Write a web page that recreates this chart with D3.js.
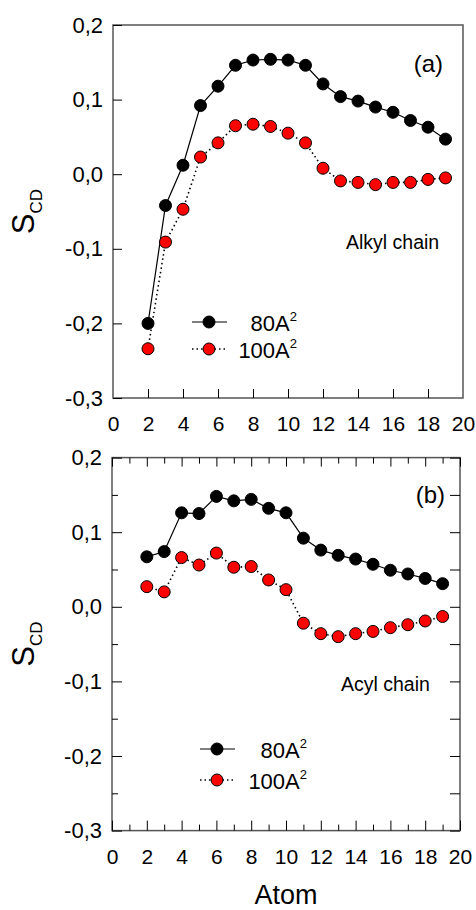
<!DOCTYPE html>
<html>
<head>
<meta charset="utf-8">
<script src="https://cdn.jsdelivr.net/npm/d3@7"></script>
<style>
  body { margin: 0; background: #fff; }
  svg { display: block; font-family: "Liberation Sans", Arial, sans-serif; }
</style>
</head>
<body>
<div id="chart"></div>
<script>
// atom positions along the chain
const atoms = [2, 3, 4, 5, 6, 7, 8, 9, 10, 11, 12, 13, 14, 15, 16, 17, 18, 19];

// (a) alkyl chain
const alkyl80 = [-0.200, -0.042, 0.012, 0.092, 0.118, 0.146, 0.153, 0.154, 0.153, 0.146,
                 0.121, 0.104, 0.098, 0.090, 0.083, 0.072, 0.063, 0.047];
const alkyl100 = [-0.234, -0.091, -0.047, 0.023, 0.042, 0.065, 0.067, 0.064, 0.055, 0.042,
                  0.008, -0.009, -0.011, -0.014, -0.011, -0.011, -0.007, -0.005];

// (b) acyl chain
const acyl80 = [0.067, 0.074, 0.126, 0.125, 0.148, 0.142, 0.144, 0.132, 0.126, 0.092,
                0.076, 0.069, 0.064, 0.057, 0.049, 0.044, 0.038, 0.031];
const acyl100 = [0.027, 0.020, 0.066, 0.056, 0.072, 0.053, 0.054, 0.036, 0.023, -0.022,
                 -0.036, -0.040, -0.036, -0.033, -0.028, -0.024, -0.019, -0.013];

const seriesNames = ["80A", "100A"];
const xTicks = [0, 2, 4, 6, 8, 10, 12, 14, 16, 18, 20];
const xMinorTicks = [1, 3, 5, 7, 9, 11, 13, 15, 17, 19];
const yTicks = [-0.3, -0.2, -0.1, 0.0, 0.1, 0.2];
const yMinorTicks = [-0.25, -0.15, -0.05, 0.05, 0.15];

const width = 476, height = 910;
const markerR = 6;
const fontFamily = '"Liberation Sans", Arial, sans-serif';

const locale = d3.formatLocale({decimal: ",", thousands: ".", grouping: [3], currency: ["", ""], minus: "-"});
const fmtY = locale.format(".1f");

const svg = d3.select("#chart").append("svg")
    .attr("width", width)
    .attr("height", height);

const panels = [
    {left: 113, right: 463, top: 25, bottom: 398, s80: alkyl80, s100: alkyl100,
     letter: "(a)", letterX: 443, letterY: 72, name: "Alkyl chain", nameX: 346, nameY: 249,
     legX: 192, legY: 322, legGap: 27, legTextX: 297, allTicks: false},
    {left: 112, right: 460, top: 457.6, bottom: 830.6, s80: acyl80, s100: acyl100,
     letter: "(b)", letterX: 445, letterY: 503, name: "Acyl chain", nameX: 341, nameY: 691,
     legX: 200, legY: 749, legGap: 31, legTextX: 307, allTicks: true}
];

panels.forEach(drawPanel);

// x axis title
svg.append("text")
    .attr("x", (panels[1].left + panels[1].right) / 2)
    .attr("y", 904)
    .attr("text-anchor", "middle")
    .style("font-size", "27px")
    .text("Atom");

function drawPanel(p) {
    const x = d3.scaleLinear().domain([0, 20]).range([p.left, p.right]);
    const y = d3.scaleLinear().domain([-0.3, 0.2]).range([p.bottom, p.top]);
    const g = svg.append("g");

    // frame
    g.append("rect")
        .attr("x", p.left).attr("y", p.top)
        .attr("width", p.right - p.left).attr("height", p.bottom - p.top)
        .attr("fill", "none")
        .attr("stroke", "#555")
        .attr("stroke-width", 1.5);

    // left axis, ticks pointing inwards
    const left = g.append("g")
        .attr("transform", `translate(${p.left},0)`)
        .call(d3.axisLeft(y).tickValues(yTicks).tickFormat(fmtY)
            .tickSize(p.allTicks ? -10 : -9).tickPadding(10));
    styleAxis(left);
    left.selectAll("text").style("font-size", "22px");

    // bottom axis
    const bottom = g.append("g")
        .attr("transform", `translate(0,${p.bottom})`)
        .call(d3.axisBottom(x).tickValues(xTicks).tickFormat(d3.format("d"))
            .tickSize(p.allTicks ? -10 : -9).tickPadding(18));
    styleAxis(bottom);
    bottom.selectAll("text").style("font-size", "21px");
    if (!p.allTicks) {
        // panel (a) has no ticks at 0 and 20
        bottom.selectAll(".tick line").filter(d => d === 0 || d === 20).remove();
    }

    if (p.allTicks) {
        const minorLeft = g.append("g")
            .attr("transform", `translate(${p.left},0)`)
            .call(d3.axisLeft(y).tickValues(yMinorTicks).tickFormat("").tickSize(-6));
        styleAxis(minorLeft);
        const minorBottom = g.append("g")
            .attr("transform", `translate(0,${p.bottom})`)
            .call(d3.axisBottom(x).tickValues(xMinorTicks).tickFormat("").tickSize(-6));
        styleAxis(minorBottom);
        const right = g.append("g")
            .attr("transform", `translate(${p.right},0)`)
            .call(d3.axisRight(y).tickValues(yTicks.concat(yMinorTicks)).tickFormat("").tickSize(-10));
        styleAxis(right);
        const top = g.append("g")
            .attr("transform", `translate(0,${p.top})`)
            .call(d3.axisTop(x).tickValues(xTicks).tickFormat("").tickSize(-9));
        styleAxis(top);
        const topMinor = g.append("g")
            .attr("transform", `translate(0,${p.top})`)
            .call(d3.axisTop(x).tickValues(xMinorTicks).tickFormat("").tickSize(-6));
        styleAxis(topMinor);
    }

    // y axis title S_CD
    const yt = g.append("text")
        .attr("transform", `translate(34,${(p.top + p.bottom) / 2}) rotate(-90)`)
        .attr("text-anchor", "middle")
        .style("font-size", "31px");
    yt.append("tspan").text("S");
    yt.append("tspan").attr("dy", 8).style("font-size", "17px").text("CD");

    // lines
    const line = d3.line()
        .x((d, i) => x(atoms[i]))
        .y(d => y(d));
    g.append("path").datum(p.s80)
        .attr("d", line)
        .attr("fill", "none").attr("stroke", "#000").attr("stroke-width", 1.2);
    g.append("path").datum(p.s100)
        .attr("d", line)
        .attr("fill", "none").attr("stroke", "#000").attr("stroke-width", 1.6)
        .attr("stroke-dasharray", "1.5,3");

    // markers
    g.selectAll(".m100").data(p.s100).enter().append("circle")
        .attr("class", "m100")
        .attr("cx", (d, i) => x(atoms[i]))
        .attr("cy", d => y(d))
        .attr("r", markerR)
        .attr("fill", "#ff0000").attr("stroke", "#000").attr("stroke-width", 1);
    g.selectAll(".m80").data(p.s80).enter().append("circle")
        .attr("class", "m80")
        .attr("cx", (d, i) => x(atoms[i]))
        .attr("cy", d => y(d))
        .attr("r", markerR)
        .attr("fill", "#000").attr("stroke", "#000").attr("stroke-width", 1);

    // panel letter and chain name
    g.append("text")
        .attr("x", p.letterX).attr("y", p.letterY)
        .attr("text-anchor", "end")
        .style("font-size", "24px")
        .text(p.letter);
    g.append("text")
        .attr("x", p.nameX).attr("y", p.nameY)
        .style("font-size", "19.5px")
        .text(p.name);

    // legend
    seriesNames.forEach((name, i) => {
        const ly = p.legY + i * p.legGap;
        g.append("line")
            .attr("x1", p.legX).attr("x2", p.legX + 35)
            .attr("y1", ly).attr("y2", ly)
            .attr("stroke", "#000")
            .attr("stroke-width", i === 0 ? 1.2 : 1.6)
            .attr("stroke-dasharray", i === 0 ? null : "1.5,3");
        g.append("circle")
            .attr("cx", p.legX + 17).attr("cy", ly)
            .attr("r", markerR)
            .attr("fill", i === 0 ? "#000" : "#ff0000")
            .attr("stroke", "#000");
        const t = g.append("text")
            .attr("x", p.legTextX).attr("y", ly + 9)
            .attr("text-anchor", "end")
            .style("font-size", "22px");
        t.append("tspan").text(name);
        t.append("tspan").attr("dy", -10).style("font-size", "13px").text("2");
    });
}

function styleAxis(sel) {
    sel.select(".domain").remove();
    sel.selectAll(".tick line").attr("stroke", "#000").attr("stroke-width", 1);
    sel.selectAll("text").attr("fill", "#000").style("font-family", fontFamily);
}
</script>
</body>
</html>
